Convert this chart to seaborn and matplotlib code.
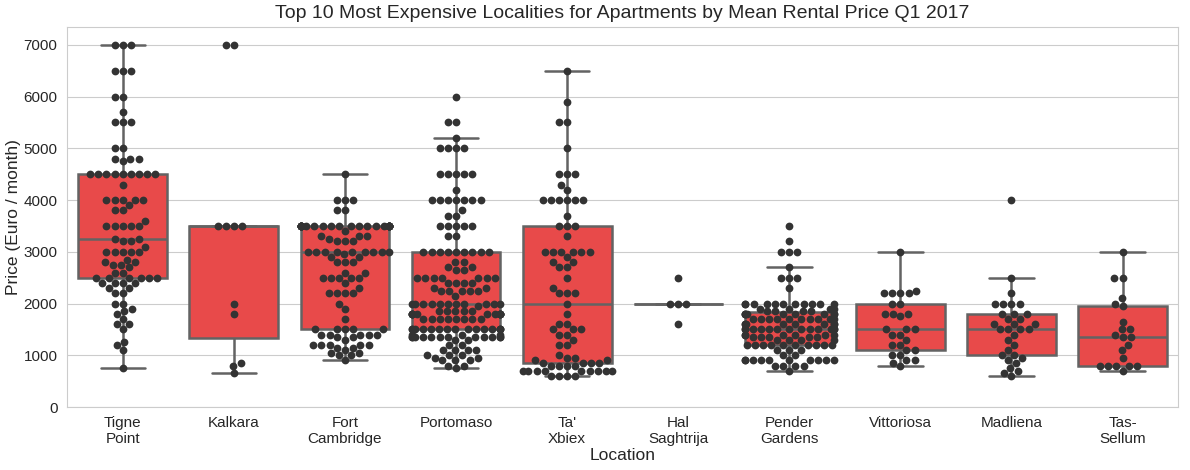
import pandas as pd
import seaborn as sns
import matplotlib.pyplot as plt

# localities in plotting order and their wrapped tick labels
localities = ["Tigne Point", "Kalkara", "Fort Cambridge", "Portomaso", "Ta' Xbiex",
              "Hal Saghtrija", "Pender Gardens", "Vittoriosa", "Madliena", "Tas-Sellum"]
tick_labels = ["Tigne\nPoint", "Kalkara", "Fort\nCambridge", "Portomaso", "Ta'\nXbiex",
               "Hal\nSaghtrija", "Pender\nGardens", "Vittoriosa", "Madliena", "Tas-\nSellum"]

# monthly rental prices (Euro)
tigne_point = [7000, 7000, 7000, 6500, 6500, 6500, 6000, 6000, 5700, 5500, 5500, 5500,
               5000, 5000, 4800, 4800, 4800, 4750,
               4500, 4500, 4500, 4500, 4500, 4500, 4500, 4500, 4500, 4300,
               4000, 4000, 4000, 4000, 4000, 3900, 3800, 3800, 3600,
               3500, 3500, 3500, 3500, 3500, 3250, 3250, 3200, 3200, 3100,
               3000, 3000, 3000, 3000, 3000, 2850, 2800, 2800, 2750, 2750, 2700, 2600, 2600,
               2500, 2500, 2500, 2500, 2500, 2500, 2400, 2400, 2400, 2400, 2300, 2300,
               2200, 2200, 2000, 2000, 1900, 1850, 1800, 1700, 1600, 1600, 1500,
               1250, 1200, 1100, 750]
kalkara = [7000, 7000, 3500, 3500, 3500, 3500, 2000, 1800, 850, 800, 650]
fort_cambridge = [4500, 4000, 4000, 4000, 3800, 3800,
                  3500, 3500, 3500, 3500, 3500, 3500, 3500, 3500, 3500, 3500, 3500, 3500, 3500,
                  3500, 3500, 3500, 3500, 3500, 3500, 3500, 3500, 3500, 3500, 3500, 3500, 3500,
                  3400, 3300, 3300, 3300, 3250, 3200, 3200, 3200,
                  3000, 3000, 3000, 3000, 3000, 3000, 3000, 3000, 3000, 2950, 2900, 2900,
                  2800, 2800, 2800, 2600, 2600, 2500, 2500, 2500, 2500, 2500, 2400, 2300,
                  2200, 2200, 2200, 2200, 2000, 1900, 1700,
                  1500, 1500, 1500, 1500, 1500, 1400, 1400, 1400, 1400, 1400, 1350, 1350, 1300,
                  1200, 1200, 1200, 1200, 1200, 1150, 1150, 1100, 1050, 1050, 1000, 1000, 900]
portomaso = [6000, 5500, 5500, 5200, 5000, 5000, 5000, 5000,
             4500, 4500, 4500, 4500, 4500, 4200, 4000, 4000, 4000, 4000, 4000, 4000, 4000,
             3800, 3700, 3700, 3500, 3500, 3500, 3500, 3500, 3300, 3300,
             3000, 3000, 3000, 3000, 3000, 3000, 3000, 3000, 3000,
             2800, 2800, 2700, 2700, 2650, 2650,
             2500, 2500, 2500, 2500, 2500, 2500, 2500, 2400, 2400, 2400, 2400,
             2300, 2300, 2250, 2250, 2250, 2250, 2250, 2150,
             2000, 2000, 2000, 2000, 2000, 2000, 2000, 2000, 2000, 2000, 2000, 1950,
             1850, 1850, 1850, 1850, 1850,
             1800, 1800, 1800, 1800, 1800, 1800, 1800, 1800, 1800, 1800, 1800, 1800,
             1700, 1700, 1700, 1700, 1700, 1700, 1700, 1700,
             1500, 1500, 1500, 1500, 1500, 1500, 1500, 1500, 1500, 1500, 1500, 1500, 1500,
             1500, 1500, 1400, 1400, 1400,
             1350, 1350, 1350, 1350, 1350, 1350, 1350, 1350, 1350, 1350, 1350, 1350,
             1300, 1300, 1200, 1200, 1100, 1100, 1100, 1100, 1000, 1000, 1000,
             950, 950, 900, 900, 900, 800, 800, 750]
ta_xbiex = [6500, 5900, 5500, 5500, 5000, 4500, 4500, 4500, 4300, 4200,
            4000, 4000, 4000, 4000, 4000, 4000, 3700, 3500, 3500, 3500, 3300,
            3000, 3000, 3000, 3000, 3000, 3000, 2900, 2800, 2800, 2700, 2700,
            2500, 2300, 2200, 2200, 2200, 2000, 1800, 1600, 1600, 1500, 1500, 1500,
            1400, 1400, 1300, 1200, 1200, 1000, 950, 950, 900, 900,
            850, 850, 850, 850, 800, 800, 800, 800,
            700, 700, 700, 700, 700, 700, 700, 700, 700, 600, 600, 600, 600]
hal_saghtrija = [2500, 2000, 2000, 2000, 1600]
pender_gardens = [3500, 3200, 3000, 3000, 3000, 2700, 2500, 2500, 2500, 2300,
                  2000, 2000, 2000, 2000, 2000, 2000, 2000, 2000, 2000, 2000, 2000,
                  1900, 1900, 1900, 1900, 1850, 1850, 1850, 1850,
                  1800, 1800, 1800, 1800, 1800, 1800, 1800, 1800, 1800,
                  1700, 1700, 1700, 1700, 1700, 1700, 1700, 1700, 1700, 1700,
                  1600, 1600, 1600, 1600, 1600, 1600, 1600, 1600,
                  1500, 1500, 1500, 1500, 1500, 1500, 1500, 1500, 1500, 1500, 1500, 1500, 1500,
                  1400, 1400, 1400, 1400, 1400, 1400, 1350, 1350, 1350, 1350, 1350,
                  1300, 1300, 1300, 1300,
                  1200, 1200, 1200, 1200, 1200, 1200, 1200, 1200, 1200, 1200,
                  1100, 1100, 1100, 1000, 1000,
                  900, 900, 900, 900, 900, 900, 900, 900, 900, 900, 800, 800, 800, 800, 700]
vittoriosa = [3000, 2250, 2200, 2200, 2200, 2200, 2000, 2000, 1800, 1800, 1800, 1750,
              1500, 1500, 1500, 1400, 1400, 1300, 1200, 1200, 1100, 1100, 1000, 1000,
              900, 900, 850, 800]
madliena = [4000, 2500, 2200, 2000, 2000, 2000, 2000, 1800, 1800, 1800, 1700, 1700,
            1600, 1600, 1600, 1500, 1500, 1500, 1500, 1400, 1300, 1200, 1100, 1000, 1000,
            950, 900, 850, 750, 700, 650, 600]
tas_sellum = [3000, 2500, 2500, 2100, 2000, 1950, 1650, 1500, 1500, 1400, 1350, 1350,
              1200, 1100, 950, 800, 800, 800, 800, 800, 700]

prices = [tigne_point, kalkara, fort_cambridge, portomaso, ta_xbiex,
          hal_saghtrija, pender_gardens, vittoriosa, madliena, tas_sellum]

rows = []
for loc, vals in zip(localities, prices):
    for v in vals:
        rows.append({"Location": loc, "Price": v})
df = pd.DataFrame(rows)

sns.set_style("whitegrid")
plt.rcParams['font.family'] = ['Liberation Sans', 'DejaVu Sans']

fig, ax = plt.subplots(figsize=(11.9, 4.7), dpi=100)
fig.subplots_adjust(left=0.0565, right=0.99, top=0.943, bottom=0.134)

sns.boxplot(data=df, x="Location", y="Price", order=localities, color="#e84a4a",
            saturation=1, showfliers=False, linecolor="#636363", linewidth=1.8,
            width=0.8, ax=ax)
sns.swarmplot(data=df, x="Location", y="Price", order=localities, color="#333333",
              size=5.6, ax=ax)

ax.set_ylim(0, 7350)
ax.set_yticks(range(0, 7001, 1000))
ax.set_xticks(range(len(localities)))
ax.set_xticklabels(tick_labels)
ax.tick_params(axis="both", labelsize=11, colors=".15")
ax.tick_params(axis="x", pad=3)
ax.set_xlabel("Location", fontsize=12.5, color=".15", labelpad=1)
ax.set_ylabel("Price (Euro / month)", fontsize=12.5, color=".15", labelpad=2)
ax.set_title("Top 10 Most Expensive Localities for Apartments by Mean Rental Price Q1 2017",
             fontsize=14, color=".15")

fig.savefig("out.png", dpi=100)
